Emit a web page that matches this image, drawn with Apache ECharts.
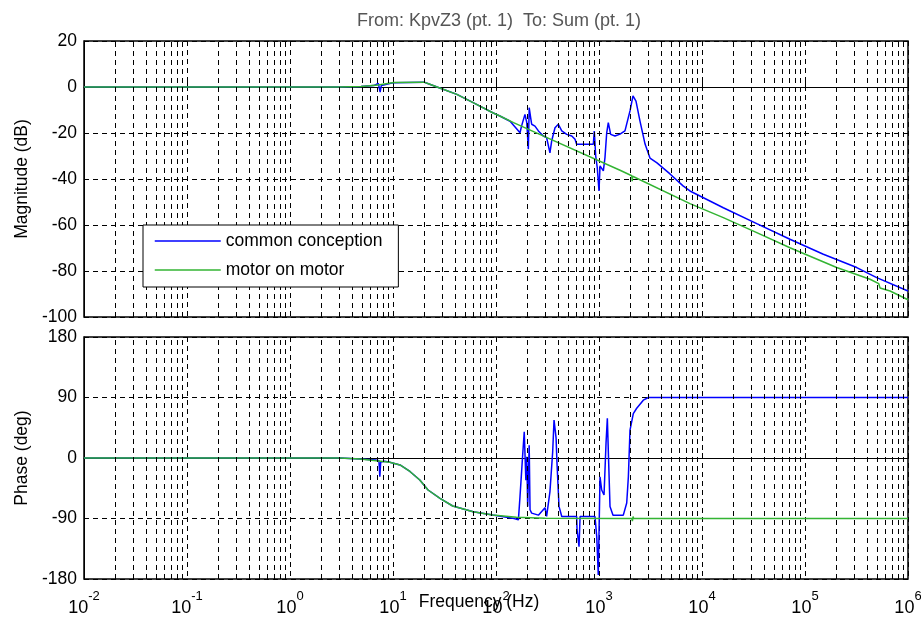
<!DOCTYPE html>
<html>
<head>
<meta charset="utf-8">
<script src="https://cdn.jsdelivr.net/npm/echarts@6/dist/echarts.min.js"></script>
<style>
  html, body { margin: 0; padding: 0; background: #fff; }
  #chart { width: 921px; height: 618px; }
</style>
</head>
<body>
<div id="chart"></div>
<script>
// Bode diagram of the KpvZ3 -> Sum path for two drive set-ups.
const seriesNames = ['common conception', 'motor on motor'];
const decadeExponents = ['-2', '-1', '0', '1', '2', '3', '4', '5', '6'];
const magTicks = [-100, -80, -60, -40, -20, 0, 20];
const phaseTicks = [-180, -90, 0, 90, 180];

// Magnitude, common conception (Hz, dB)
const magCommonFreq = [0.01, 3, 4.9, 6.5, 7.2, 7.5, 7.7, 8.3, 10.2, 20, 22.4, 28, 41.7, 60, 93, 109, 137, 160, 171, 177,
  191, 199, 206, 210, 217, 222, 239, 258, 288, 310, 334, 347, 374, 403, 435, 486, 544, 585, 607, 881,
  900, 929, 962, 1000, 1023, 1062, 1102, 1143, 1188, 1231, 1298, 1429, 1600, 1787, 2000, 2138, 2286, 2500, 2800, 3126,
  3656, 4887, 6546, 7640, 16100, 34000, 71400, 150700, 318000, 497000, 1000000];
const magCommonDb = [0, 0, 0.2, 0.6, 1.6, -2.2, 0.6, 1.0, 1.9, 2.1, 1.3, -0.3, -3.2, -6.8, -11.2, -12.6, -14.9, -18.4, -19.9, -17,
  -11.9, -15.5, -27.1, -9, -13.3, -16.2, -17, -19.1, -21.3, -22, -28.6, -23.5, -17.7, -16.2, -19.1, -20.6, -21.3, -22.7, -24.9, -24.9,
  -19.1, -30, -35.1, -45.2, -34.3, -35, -36.5, -30.7, -19.9, -15.5, -20.6, -21.3, -20.5, -19.1, -10.4, -3.9, -6.1, -14.8, -24.8, -30.9,
  -33, -37.8, -43, -45.2, -52.5, -59.4, -66.2, -72.7, -78.5, -82.9, -88.7];

// Magnitude, motor on motor (Hz, dB)
const magMotorFreq = [0.01, 3, 4.9, 7.2, 10.2, 20, 22.4, 28, 41.7, 60, 93, 109, 148, 269, 1600, 2080, 2100, 2120,
  7640, 16100, 34000, 71400, 203000, 428000, 520000, 535000, 670000, 1000000];
const magMotorDb = [0, 0, 0.2, 0.9, 2.0, 2.1, 1.3, -0.3, -3.2, -6.8, -11.2, -12.6, -15.5, -20.7, -36.2, -38.6, -41, -38.8,
  -50.7, -56.8, -63.3, -69.9, -78.5, -83.6, -85.5, -87.4, -88.7, -92.5];

// Phase, common conception (Hz, deg)
const phaseCommonFreq = [0.01, 3.05, 4.8, 6.8, 7.3, 7.45, 7.6, 8.3, 9.3, 11.7, 14.6, 18.2, 21.9, 28.6, 38, 60, 93, 150, 165, 171,
  182, 188, 195, 199, 203, 210, 214, 222, 258, 299, 310, 334, 355, 366, 383, 391, 409, 435, 607, 612,
  640, 655, 914, 951, 984, 1023, 1062, 1119, 1170, 1205, 1242, 1279, 1368, 1722, 1858, 1928, 2000, 2153, 2323, 2692,
  3013, 1000000];
const phaseCommonDeg = [0, 0, -1.5, -3, -4, -28, -6, -5, -6.4, -10.4, -20, -32.7, -47.6, -60, -71.4, -80, -84.8, -90, -92, -57.5,
  7, 39, -33, 2, -72, 19, -77, -82, -85, -74, -87, -50, 9, 56.5, 30, -7.6, -72, -87, -87, -107,
  -132, -87, -87, -117, -174, -28, -47.6, -55, 22, 59, -8, -72, -85, -85, -67, -28, 41.6, 66, 74, 86,
  90, 90];

// Phase, motor on motor (Hz, deg)
const phaseMotorFreq = [0.01, 3.05, 4.8, 9.3, 11.7, 14.6, 18.2, 21.9, 28.6, 38, 60, 93, 158, 300, 2080, 2110, 2140, 2170, 1000000];
const phaseMotorDeg = [0, 0, -1.5, -6.4, -10.4, -20, -32.7, -47.6, -60, -71.4, -80, -84.8, -88, -89.5, -90, -94, -87, -90, -90];

const zip = (xs, ys) => xs.map((x, i) => [x, ys[i]]);

const BLUE = '#0000ff';
const GREEN = '#33b433';
const FONT = '"Liberation Sans", Arial, Helvetica, sans-serif';
const dash = [5, 4];

// Minor grid lines at 2..9 x each decade between 1e-2 and 1e6
const minorGrid = [];
for (let d = -2; d < 6; d++) {
  for (let k = 2; k <= 9; k++) minorGrid.push({ xAxis: k * Math.pow(10, d) });
}

function gridSeries(idx) {
  return {
    type: 'line', name: 'minor-grid-' + idx, xAxisIndex: idx, yAxisIndex: idx,
    data: [], silent: true, z: 1,
    markLine: {
      silent: true, symbol: ['none', 'none'], animation: false,
      label: { show: false },
      lineStyle: { color: '#000', type: dash, width: 1 },
      emphasis: { disabled: true },
      data: minorGrid
    }
  };
}

function dataSeries(name, idx, data, color) {
  return {
    type: 'line', name, xAxisIndex: idx, yAxisIndex: idx,
    data, showSymbol: false, symbol: 'none', z: 3,
    lineStyle: { color, width: 1.5 }, itemStyle: { color },
    emphasis: { disabled: true }, animation: false
  };
}

function xAxisDef(idx, showLabels) {
  return {
    type: 'log', logBase: 10, gridIndex: idx, min: 0.01, max: 1000000,
    axisLine: { show: true, lineStyle: { color: '#000', width: 1 } },
    axisTick: { show: true, inside: true, length: 5, lineStyle: { color: '#000' } },
    splitLine: { show: true, lineStyle: { color: '#000', type: dash, width: 1 } },
    axisLabel: {
      show: showLabels, margin: 11, color: '#000', fontFamily: FONT,
      formatter: (v) => {
        const e = Math.round(Math.log10(v));
        return '{b|10}{s|' + decadeExponents[e + 2] + '}';
      },
      rich: {
        b: { fontSize: 18, fontFamily: FONT, color: '#000', padding: [9, 0, 0, 0] },
        s: { fontSize: 13, fontFamily: FONT, color: '#000', verticalAlign: 'top' }
      }
    },
    name: showLabels ? 'Frequency (Hz)' : '',
    nameLocation: 'middle', nameGap: 14, nameMoveOverlap: false,
    nameTextStyle: { fontSize: 17.5, fontFamily: FONT, color: '#000', padding: [0, 34, 0, 0] }
  };
}

function yAxisDef(idx, name, ticks) {
  return {
    type: 'value', gridIndex: idx,
    min: ticks[0], max: ticks[ticks.length - 1], interval: ticks[1] - ticks[0],
    axisLine: { show: true, lineStyle: { color: '#000', width: 1 } },
    axisTick: { show: true, inside: true, length: 5, lineStyle: { color: '#000' } },
    splitLine: { show: true, lineStyle: { color: '#000', type: dash, width: 1 } },
    axisLabel: { margin: 7, fontSize: 17.5, fontFamily: FONT, color: '#000' },
    name, nameLocation: 'middle', nameGap: 53, nameMoveOverlap: false,
    nameTextStyle: { fontSize: 17.5, fontFamily: FONT, color: '#000' }
  };
}

const chart = echarts.init(document.getElementById('chart'), null, { renderer: 'canvas' });
chart.setOption({
  animation: false,
  backgroundColor: '#fff',
  textStyle: { fontFamily: FONT },
  title: {
    text: 'From: KpvZ3 (pt. 1)  To: Sum (pt. 1)',
    left: 494, top: 7, textAlign: 'center',
    textStyle: { fontSize: 18, fontWeight: 'normal', color: '#555', fontFamily: FONT }
  },
  legend: {
    data: seriesNames,
    orient: 'vertical', left: 143, top: 225,
    itemWidth: 66, itemHeight: 14, itemGap: 11,
    padding: [7, 16, 8, 11],
    itemStyle: { opacity: 0 },
    lineStyle: { width: 1.5 },
    backgroundColor: '#fff', borderColor: '#000', borderWidth: 1, borderRadius: 0,
    textStyle: { fontSize: 17.5, fontFamily: FONT, color: '#000' },
    selectedMode: false, z: 10
  },
  grid: [
    { left: 84, top: 41, width: 824, height: 276, show: true, borderColor: '#000', borderWidth: 1.5,
      backgroundColor: '#fff', containLabel: false, outerBoundsMode: 'none' },
    { left: 84, top: 337, width: 824, height: 242, show: true, borderColor: '#000', borderWidth: 1.5,
      backgroundColor: '#fff', containLabel: false, outerBoundsMode: 'none' }
  ],
  xAxis: [xAxisDef(0, false), xAxisDef(1, true)],
  yAxis: [yAxisDef(0, 'Magnitude (dB)', magTicks), yAxisDef(1, 'Phase (deg)', phaseTicks)],
  series: [
    gridSeries(0),
    gridSeries(1),
    dataSeries(seriesNames[0], 0, zip(magCommonFreq, magCommonDb), BLUE),
    dataSeries(seriesNames[1], 0, zip(magMotorFreq, magMotorDb), GREEN),
    dataSeries(seriesNames[0], 1, zip(phaseCommonFreq, phaseCommonDeg), BLUE),
    dataSeries(seriesNames[1], 1, zip(phaseMotorFreq, phaseMotorDeg), GREEN)
  ]
});
</script>
</body>
</html>
